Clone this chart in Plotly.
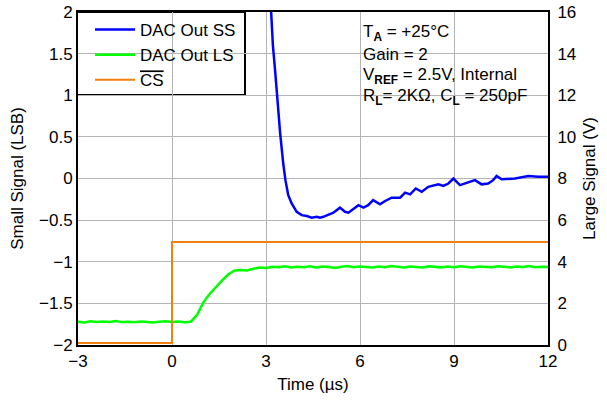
import plotly.graph_objects as go

# ---- data ----
x_ticks = [-3, 0, 3, 6, 9, 12]

ss_t = [3.08, 3.15, 3.22, 3.29, 3.36, 3.45, 3.55, 3.62, 3.71, 3.82, 3.98, 4.14, 4.30, 4.46,
        4.62, 4.72, 4.83, 4.94, 5.15, 5.36, 5.52, 5.63, 5.79, 5.95, 6.11, 6.26, 6.42, 6.64,
        6.80, 7.01, 7.28, 7.44, 7.60, 7.78, 7.97, 8.18, 8.50, 8.66, 8.82, 8.98, 9.19, 9.41,
        9.67, 9.88, 10.09, 10.25, 10.36, 10.52, 10.95, 11.37, 11.69, 12.0]
ss_lsb = [2.6, 2.0, 1.6, 1.30, 0.94, 0.55, 0.18, -0.02, -0.20, -0.30, -0.40, -0.44, -0.45, -0.47,
          -0.46, -0.47, -0.46, -0.44, -0.41, -0.35, -0.40, -0.41, -0.36, -0.32, -0.35, -0.32, -0.26, -0.31,
          -0.27, -0.23, -0.23, -0.17, -0.19, -0.12, -0.16, -0.10, -0.07, -0.09, -0.06, 0.00, -0.08, -0.05,
          -0.02, -0.07, -0.06, -0.02, 0.03, -0.01, 0.00, 0.03, 0.02, 0.02]

ls_t = [-3.0, -2.8, -2.6, -2.4, -2.2, -2.0, -1.8, -1.6, -1.4, -1.2, -1.0, -0.8, -0.6, -0.4, -0.2,
        0.0, 0.2, 0.4, 0.6,
        0.8, 1.0, 1.2, 1.4, 1.6, 1.8, 2.0,
        2.2, 2.4, 2.6, 2.8, 3.0, 3.2, 3.4, 3.6, 3.8, 4.0,
        4.2, 4.4, 4.6, 4.8, 5.0, 5.2, 5.4, 5.6, 5.8, 6.0,
        6.2, 6.4, 6.6, 6.8, 7.0, 7.2, 7.4, 7.6, 7.8, 8.0,
        8.2, 8.4, 8.6, 8.8, 9.0, 9.2, 9.4, 9.6, 9.8, 10.0,
        10.2, 10.4, 10.6, 10.8, 11.0, 11.2, 11.4, 11.6, 11.8, 12.0]
ls_v = [1.12, 1.08, 1.14, 1.10, 1.13, 1.11, 1.15, 1.10, 1.12, 1.09, 1.13, 1.11, 1.08, 1.12, 1.14,
        1.10, 1.13, 1.09, 1.12,
        1.45, 2.05, 2.45, 2.80, 3.10, 3.40, 3.58,
        3.60, 3.58, 3.66, 3.72, 3.70, 3.76, 3.74, 3.78, 3.72, 3.76,
        3.74, 3.78, 3.73, 3.77, 3.75, 3.70, 3.76, 3.79, 3.74, 3.77,
        3.75, 3.72, 3.77, 3.74, 3.79, 3.75, 3.73, 3.77, 3.76, 3.72,
        3.78, 3.75, 3.73, 3.77, 3.74, 3.78, 3.76, 3.72, 3.77, 3.75,
        3.74, 3.78, 3.76, 3.73, 3.77, 3.75, 3.79, 3.74, 3.76, 3.75]

cs_t = [-3.0, 0.0, 0.0, 12.0]
cs_v = [0.1, 0.1, 4.95, 4.95]

cond_lines = [
    "T<sub><b>A</b></sub> = +25°C",
    "Gain = 2",
    "V<sub><b>REF</b></sub> = 2.5V, Internal",
    "R<sub><b>L</b></sub>= 2KΩ, C<sub><b>L</b></sub> = 250pF",
]

FONT = "Liberation Sans, Arial, sans-serif"
GRID = "#b4b4b4"
FS = 17      # tick / legend / note font size
FT = 17      # axis title font size

# plot area in pixels: x 78..548, y 12..345
L, R, T, B = 78, 59, 12, 55
PW, PH = 607 - L - R, 400 - T - B


def px(xp):
    return (xp - L) / PW


def py(yp):
    return (400 - B - yp) / PH


fig = go.Figure()
fig.add_trace(go.Scatter(x=ss_t, y=ss_lsb, mode="lines", name="DAC Out SS",
                         line=dict(color="#0000ff", width=2.5), yaxis="y"))
fig.add_trace(go.Scatter(x=ls_t, y=ls_v, mode="lines", name="DAC Out LS",
                         line=dict(color="#00ff00", width=2.5), yaxis="y2"))
fig.add_trace(go.Scatter(x=cs_t, y=cs_v, mode="lines",
                         name="<span style='text-decoration:overline'>CS</span>",
                         line=dict(color="#f08010", width=2), yaxis="y2"))

# legend frame
fig.add_shape(type="rect", xref="paper", yref="paper", x0=px(77), x1=px(245), y0=py(95), y1=1.0,
              fillcolor="white", line=dict(width=2, color="black"), layer="between")
# conditions box
fig.add_shape(type="rect", xref="paper", yref="paper", x0=px(357), x1=1.0, y0=py(115), y1=1.0,
              fillcolor="white", line=dict(width=0), layer="between")

for i, txt in enumerate(cond_lines):
    fig.add_annotation(text=txt, xref="paper", yref="paper", x=px(361), y=py(33 + 21.3 * i),
                       xanchor="left", yanchor="middle", showarrow=False,
                       font=dict(size=FS, color="black", family=FONT))

fig.update_layout(
    width=607, height=400,
    margin=dict(l=L, r=R, t=T, b=B, autoexpand=False),
    paper_bgcolor="white", plot_bgcolor="white",
    font=dict(family=FONT, size=FS, color="black"),
    showlegend=True,
    legend=dict(x=px(90), y=py(12), xanchor="left", yanchor="top", bgcolor="rgba(0,0,0,0)",
                borderwidth=0, font=dict(size=FS), itemwidth=40, tracegroupgap=0),
    xaxis=dict(range=[-3, 12], tickvals=x_ticks, showgrid=True, gridcolor=GRID, gridwidth=1,
               zeroline=False, showline=True, linecolor="black", linewidth=2, mirror=True,
               ticks="", automargin=False, tickfont=dict(size=FS),
               title=dict(text="Time (µs)", standoff=8, font=dict(size=FT))),
    yaxis=dict(range=[-2, 2], dtick=0.5, showgrid=True, gridcolor=GRID, gridwidth=1,
               zeroline=False, showline=True, linecolor="black", linewidth=2,
               ticks="", automargin=False, tickfont=dict(size=FS),
               title=dict(text="Small Signal (LSB)", standoff=11, font=dict(size=FT))),
    yaxis2=dict(range=[0, 16], dtick=2, overlaying="y", side="right", showgrid=False,
                zeroline=False, showline=True, linecolor="black", linewidth=2,
                ticks="", automargin=False, tickfont=dict(size=FS), ticklabelstandoff=4,
                title=dict(text="Large Signal (V)", standoff=8, font=dict(size=FT))),
)

fig.write_html("out.html", config={"displayModeBar": False},
               post_script="document.body.style.margin='0px';")
